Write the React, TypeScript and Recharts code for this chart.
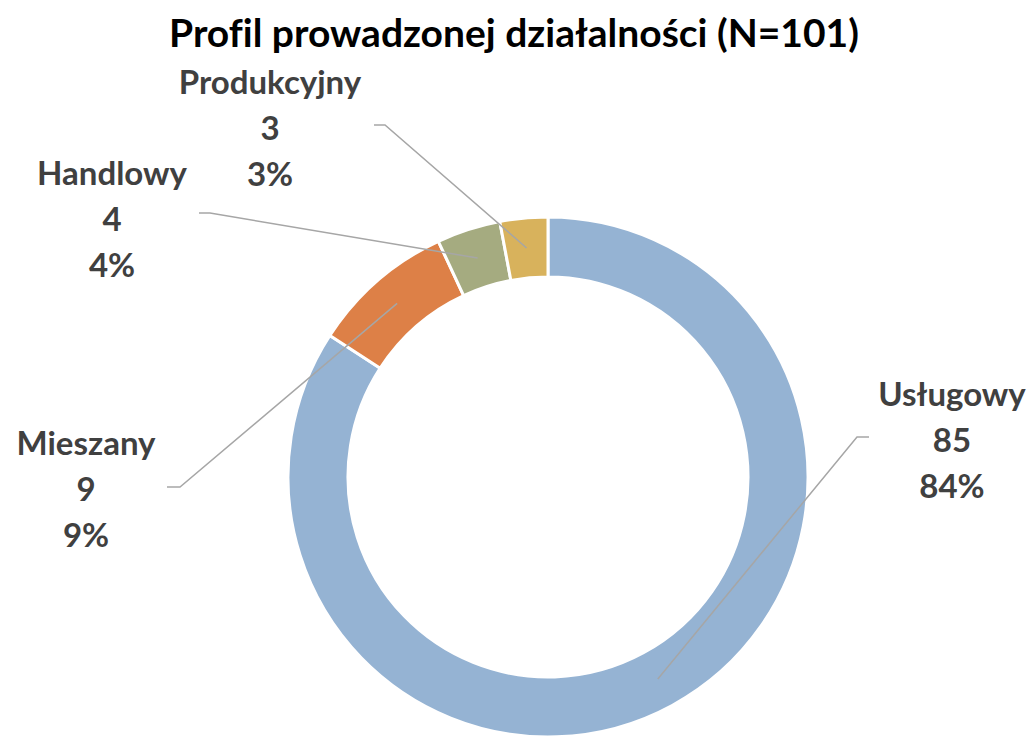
import { Cell, Pie, PieChart } from "recharts"

const categories = ["Usługowy", "Mieszany", "Handlowy", "Produkcyjny"]
const counts = [85, 9, 4, 3]
const colors = ["#95B3D3", "#DD8047", "#A5AB80", "#D8B25C"]
const title = "Profil prowadzonej działalności (N=101)"

// where each leader line bends and where its label block sits
const labelLayout = [
  { elbowX: 857, elbowY: 437, endX: 869, textX: 952, textY: 393 },
  { elbowX: 180, elbowY: 487, endX: 167, textX: 86, textY: 442 },
  { elbowX: 210, elbowY: 213, endX: 199, textX: 112, textY: 172 },
  { elbowX: 385, elbowY: 125, endX: 374, textX: 270, textY: 81 },
]

const data = categories.map((name, i) => ({ name, value: counts[i] }))

const RADIAN = Math.PI / 180
const FONT = "Lato, 'Open Sans', sans-serif"
const TEXT_COLOR = "#404040"

const renderLabel = (props: any) => {
  const { cx, cy, midAngle, innerRadius, outerRadius, index, name, value, percent } = props
  const r = (innerRadius + outerRadius) / 2
  const sx = cx + r * Math.cos(-midAngle * RADIAN)
  const sy = cy + r * Math.sin(-midAngle * RADIAN)
  const l = labelLayout[index]
  const lines = [name, String(value), `${Math.round(percent * 100)}%`]
  return (
    <g key={`label-${index}`}>
      <polyline
        points={`${sx},${sy} ${l.elbowX},${l.elbowY} ${l.endX},${l.elbowY}`}
        fill="none"
        stroke="#A6A6A6"
        strokeWidth={1.5}
      />
      {lines.map((t, j) => (
        <text
          key={j}
          x={l.textX}
          y={l.textY + j * 46}
          textAnchor="middle"
          dominantBaseline="central"
          fill={TEXT_COLOR}
          fontFamily={FONT}
          fontWeight={700}
          fontSize={33}
        >
          {t}
        </text>
      ))}
    </g>
  )
}

export default function App() {
  return (
    <div style={{ position: "absolute", left: 0, top: 0, width: 1034, height: 739, background: "#fff" }}>
      <div
        style={{
          position: "absolute",
          left: 0,
          top: 8,
          width: 1028,
          textAlign: "center",
          fontFamily: FONT,
          fontWeight: 700,
          fontSize: 39,
          color: "#000",
          lineHeight: "48px",
          fontVariantLigatures: "none",
          whiteSpace: "nowrap",
        }}
      >
        {title}
      </div>
      <PieChart width={1034} height={739} margin={{ top: 0, right: 0, bottom: 0, left: 0 }}>
        <Pie
          data={data}
          dataKey="value"
          nameKey="name"
          cx={548}
          cy={477}
          innerRadius={200}
          outerRadius={260}
          startAngle={90}
          endAngle={-270}
          stroke="#fff"
          strokeWidth={3}
          label={renderLabel}
          labelLine={false}
          isAnimationActive={false}
        >
          {data.map((d, i) => (
            <Cell key={d.name} fill={colors[i]} />
          ))}
        </Pie>
      </PieChart>
    </div>
  )
}
